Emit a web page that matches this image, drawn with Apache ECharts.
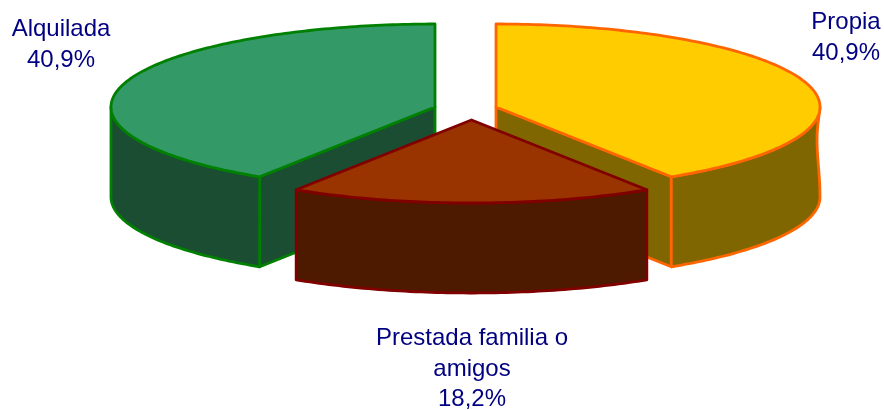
<!DOCTYPE html>
<html lang="es">
<head>
    <meta charset="UTF-8">
    <title>Vivienda</title>
    <script src="https://cdn.jsdelivr.net/npm/echarts@6/dist/echarts.min.js"></script>
    <style>
        html, body { margin: 0; padding: 0; background: #fff; }
        #main { width: 884px; height: 410px; }
    </style>
</head>
<body>
    <div id="main"></div>

    <script>
        // datos del grafico, en el orden de la tarta (sentido horario desde arriba)
        var categories = ['Propia', 'Prestada familia o\namigos', 'Alquilada'];
        var values = [40.9, 18.2, 40.9];
        var percentLabels = ['40,9%', '18,2%', '40,9%'];

        // colores y geometria
        var topColors = ['#FFCC00', '#993300', '#339966'];
        var sideColors = ['#806600', '#4D1A00', '#1B4D33'];
        var lineColors = ['#FF6600', '#800000', '#008000'];
        var apexes = [[496, 107], [471.5, 120], [435, 107]];
        var labelPos = [[846, 38], [472, 369], [61, 45]];
        var order = [0, 2, 1]; // el trozo de delante se pinta el ultimo
        var RX = 324, RY = 83, DEPTH = 90;

        var total = values.reduce(function (a, b) { return a + b; }, 0);

        function rim(apex, t, dy) {
            return [apex[0] + RX * Math.sin(t), apex[1] - RY * Math.cos(t) + (dy || 0)];
        }

        function arc(apex, from, to, dy) {
            var pts = [];
            var n = Math.max(2, Math.ceil(Math.abs(to - from) * 60));
            for (var i = 0; i <= n; i++) {
                pts.push(rim(apex, from + (to - from) * i / n, dy));
            }
            return pts;
        }

        function face(points, fill, stroke, z) {
            return {
                type: 'polygon',
                z2: z,
                shape: { points: points },
                style: { fill: fill, stroke: stroke, lineWidth: 2.8, lineJoin: 'round' }
            };
        }

        function renderSlice(params, api) {
            var i = params.dataIndex;
            var before = 0;
            for (var k = 0; k < i; k++) before += values[k];
            var start = before / total * Math.PI * 2;
            var end = (before + api.value(0)) / total * Math.PI * 2;
            var apex = apexes[i];
            var z = order[i] * 10;
            var fill = topColors[i], side = sideColors[i], line = lineColors[i];
            var children = [];

            // caras del corte, solo las que miran hacia delante
            [[start, start > Math.PI], [end, end < Math.PI]].forEach(function (c) {
                if (!c[1]) return;
                var p = rim(apex, c[0]);
                children.push(face([apex, p, [p[0], p[1] + DEPTH], [apex[0], apex[1] + DEPTH]], side, line, z));
            });

            // pared exterior
            var a = Math.max(start, Math.PI / 2), b = Math.min(end, Math.PI * 1.5);
            if (b > a) {
                var wall = arc(apex, a, b, 0);
                if (i === 0) {
                    // el borde derecho de la pared se estrecha un poco en el original
                    for (var u = 0.1; u < 0.95; u += 0.1) {
                        var dent = 3 * Math.pow(Math.sin(Math.PI * Math.pow(u, 0.7)), 2);
                        wall.unshift([apex[0] + RX - dent, apex[1] + DEPTH * u]);
                    }
                }
                wall = wall.concat(arc(apex, b, a, DEPTH));
                children.push(face(wall, side, line, z + 1));
            }

            // cara superior
            children.push(face([apex].concat(arc(apex, start, end, 0)), fill, line, z + 2));

            // etiqueta
            children.push({
                type: 'text',
                z2: 50,
                style: {
                    x: labelPos[i][0],
                    y: labelPos[i][1],
                    text: categories[i] + '\n' + percentLabels[i],
                    fill: '#000080',
                    font: '24px "Liberation Sans", Arial, sans-serif',
                    lineHeight: 30.5,
                    align: 'center',
                    verticalAlign: 'middle'
                }
            });

            return { type: 'group', children: children };
        }

        var myChart = echarts.init(document.getElementById('main'));
        myChart.setOption({
            animation: false,
            backgroundColor: '#fff',
            series: [{
                type: 'custom',
                coordinateSystem: 'none',
                renderItem: renderSlice,
                data: values.map(function (v, i) { return { name: categories[i], value: [v] }; })
            }]
        });
    </script>
</body>
</html>
